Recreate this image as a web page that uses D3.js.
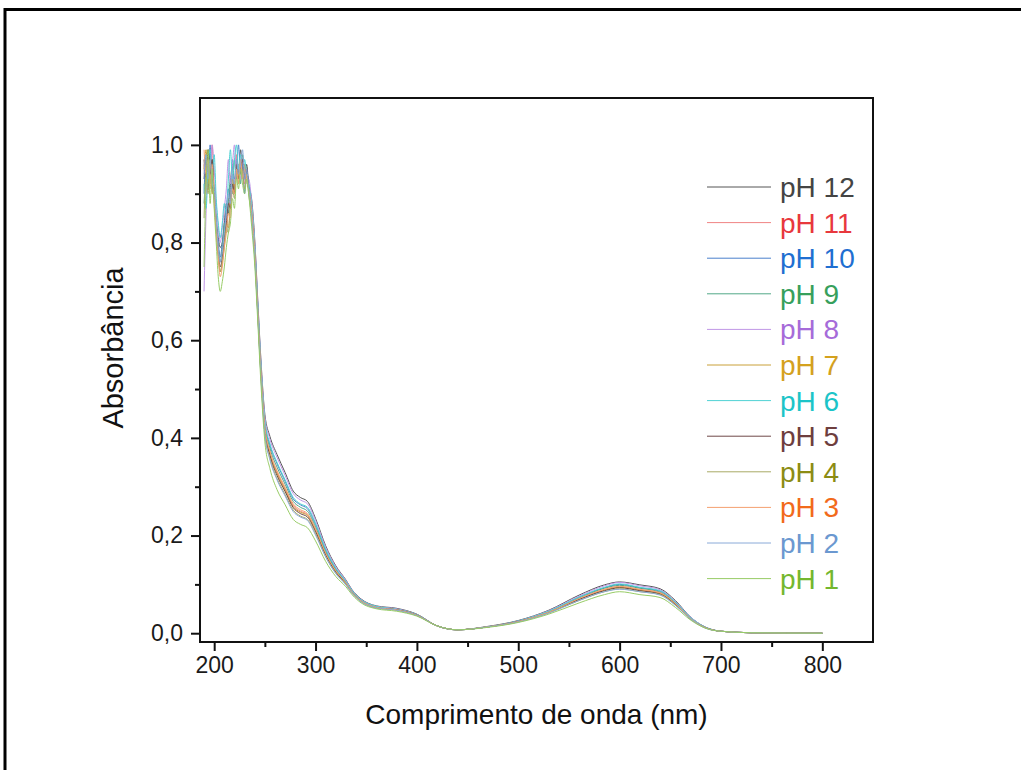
<!DOCTYPE html>
<html>
<head>
<meta charset="utf-8">
<script src="https://cdn.jsdelivr.net/npm/d3@7"></script>
<style>
  body { margin: 0; background: #fff; }
  svg { display: block; font-family: "Liberation Sans", Arial, sans-serif; }
</style>
</head>
<body>
<svg id="chart" width="1021" height="770"></svg>
<script>
var wavelength = [190,192,194,196,198,200,202,204,206,208,210,212,214,216,218,220,222,224,226,228,230,232,234,
  237,240,243,246,250,255,262,270,278,285,292,300,310,320,330,336,345,360,380,400,420,440,470,500,530,560,585,600,620,640,655,670,685,700,730,800];

var ph12 = [0.93,0.97,0.91,0.99,0.94,0.9,0.85,0.81,0.79,0.8,0.84,0.88,0.86,0.92,0.96,0.9,0.97,0.94,0.99,0.95,0.93,0.96,0.92,
  0.888,0.806,0.682,0.564,0.448,0.403,0.366,0.329,0.291,0.278,0.270,0.235,0.179,0.138,0.109,0.089,0.070,0.056,0.051,0.039,0.015,0.007,0.014,0.026,0.047,0.078,0.099,0.105,0.099,0.091,0.067,0.033,0.012,0.004,0.001,0];
var ph11 = [0.96,0.9,0.98,0.93,1.0,0.88,0.83,0.78,0.76,0.78,0.82,0.85,0.89,0.87,0.94,0.91,0.98,0.93,0.95,0.97,0.92,0.94,0.91,
  0.860,0.780,0.660,0.540,0.420,0.370,0.330,0.296,0.262,0.250,0.243,0.212,0.163,0.127,0.102,0.084,0.066,0.053,0.048,0.037,0.015,0.007,0.013,0.024,0.043,0.070,0.089,0.095,0.089,0.082,0.060,0.030,0.011,0.004,0.001,0];
var ph10 = [0.9,0.98,0.94,1.0,0.92,0.89,0.84,0.8,0.77,0.8,0.83,0.87,0.91,0.89,0.97,0.93,0.95,1.0,0.94,0.96,0.9,0.95,0.92,
  0.873,0.792,0.670,0.551,0.433,0.385,0.347,0.311,0.275,0.263,0.255,0.223,0.170,0.132,0.105,0.086,0.068,0.054,0.049,0.038,0.015,0.007,0.013,0.025,0.045,0.074,0.093,0.100,0.093,0.086,0.063,0.032,0.012,0.004,0.001,0];
var ph9 = [0.88,0.95,0.99,0.92,0.97,0.9,0.84,0.79,0.76,0.79,0.84,0.82,0.88,0.93,0.9,0.97,0.93,0.96,0.92,0.98,0.94,0.93,0.91,
  0.868,0.787,0.666,0.546,0.428,0.379,0.340,0.305,0.270,0.258,0.250,0.218,0.167,0.130,0.104,0.085,0.067,0.054,0.049,0.037,0.015,0.007,0.013,0.024,0.044,0.072,0.092,0.098,0.092,0.084,0.062,0.031,0.011,0.004,0.001,0];
var ph8 = [0.7,0.86,0.97,0.93,1.0,0.95,0.88,0.83,0.8,0.83,0.87,0.91,0.97,0.92,0.96,1.0,0.94,0.96,0.93,0.97,0.95,0.92,0.93,
  0.883,0.801,0.678,0.559,0.443,0.397,0.360,0.323,0.286,0.273,0.265,0.231,0.176,0.136,0.108,0.088,0.069,0.055,0.050,0.038,0.015,0.007,0.013,0.025,0.046,0.076,0.097,0.104,0.097,0.089,0.065,0.033,0.012,0.004,0.001,0];
var ph7 = [0.95,0.99,0.92,0.96,0.9,0.91,0.83,0.77,0.74,0.76,0.8,0.84,0.83,0.88,0.93,0.9,0.96,0.93,0.97,0.94,0.96,0.93,0.91,
  0.857,0.778,0.658,0.538,0.417,0.367,0.327,0.293,0.259,0.248,0.241,0.210,0.162,0.126,0.101,0.084,0.066,0.053,0.048,0.037,0.015,0.007,0.013,0.024,0.043,0.069,0.088,0.094,0.088,0.081,0.059,0.030,0.011,0.004,0.001,0];
var ph6 = [0.92,0.87,0.95,0.99,0.93,0.98,0.89,0.84,0.81,0.84,0.88,0.86,0.93,0.99,0.93,0.97,1.0,0.95,0.98,0.93,0.97,0.94,0.92,
  0.875,0.794,0.672,0.553,0.435,0.388,0.350,0.314,0.278,0.265,0.258,0.225,0.172,0.133,0.106,0.087,0.068,0.055,0.049,0.038,0.015,0.007,0.013,0.025,0.045,0.074,0.094,0.101,0.094,0.087,0.064,0.032,0.012,0.004,0.001,0];
var ph5 = [0.97,0.93,0.99,0.94,0.97,0.9,0.84,0.78,0.75,0.77,0.81,0.84,0.88,0.87,0.92,0.9,0.96,0.93,0.95,0.97,0.93,0.95,0.91,
  0.855,0.775,0.656,0.536,0.415,0.364,0.323,0.290,0.257,0.245,0.238,0.208,0.160,0.125,0.101,0.083,0.065,0.052,0.048,0.037,0.015,0.007,0.013,0.024,0.042,0.069,0.087,0.093,0.087,0.080,0.059,0.029,0.011,0.004,0.001,0];
var ph4 = [0.85,0.94,0.9,0.97,0.91,0.89,0.84,0.78,0.74,0.76,0.79,0.83,0.82,0.88,0.91,0.89,0.95,0.92,0.96,0.94,0.91,0.94,0.9,
  0.850,0.771,0.652,0.531,0.410,0.358,0.317,0.284,0.252,0.240,0.233,0.204,0.157,0.123,0.100,0.082,0.065,0.052,0.047,0.036,0.015,0.007,0.013,0.023,0.042,0.067,0.085,0.091,0.085,0.079,0.058,0.029,0.011,0.004,0.001,0];
var ph3 = [0.99,0.94,0.97,0.91,0.96,0.89,0.82,0.77,0.73,0.75,0.79,0.82,0.86,0.85,0.91,0.9,0.95,0.92,0.97,0.93,0.95,0.93,0.91,
  0.863,0.782,0.662,0.542,0.423,0.373,0.333,0.299,0.265,0.253,0.245,0.214,0.164,0.128,0.103,0.084,0.066,0.053,0.048,0.037,0.015,0.007,0.013,0.024,0.043,0.071,0.090,0.096,0.090,0.083,0.061,0.030,0.011,0.004,0.001,0];
var ph2 = [0.94,0.98,0.93,0.97,0.92,0.91,0.85,0.79,0.76,0.78,0.82,0.86,0.9,0.88,0.94,0.92,0.97,0.94,0.96,0.99,0.93,0.95,0.91,
  0.847,0.768,0.650,0.529,0.407,0.355,0.314,0.281,0.249,0.238,0.231,0.201,0.156,0.122,0.099,0.082,0.064,0.052,0.047,0.036,0.015,0.007,0.013,0.023,0.041,0.067,0.085,0.090,0.085,0.078,0.057,0.029,0.010,0.004,0.001,0];
var ph1 = [0.75,0.92,0.99,0.88,0.95,0.87,0.8,0.73,0.7,0.72,0.75,0.79,0.82,0.84,0.89,0.87,0.93,0.91,0.95,0.92,0.9,0.93,0.9,
  0.832,0.754,0.638,0.516,0.392,0.337,0.294,0.263,0.233,0.223,0.216,0.189,0.147,0.116,0.095,0.079,0.062,0.050,0.045,0.035,0.015,0.007,0.012,0.022,0.039,0.062,0.079,0.085,0.079,0.073,0.053,0.027,0.010,0.004,0.001,0];

var labels = ["pH 12","pH 11","pH 10","pH 9","pH 8","pH 7","pH 6","pH 5","pH 4","pH 3","pH 2","pH 1"];
var series = [ph12, ph11, ph10, ph9, ph8, ph7, ph6, ph5, ph4, ph3, ph2, ph1];
var lineColors = ["#555555","#f08484","#4a80cc","#52a888","#c096e6","#c9a038","#50d2d4","#6e4848","#a8aa66","#f4a070","#8aaad8","#98cc66"];
var textColors = ["#444444","#e8383d","#1f6fd1","#37a05c","#a66bd9","#d4a11e","#1cc4c8","#6e3e3e","#8c8c14","#f26a1b","#6b98d0","#74b72e"];

var xMajor = [200,300,400,500,600,700,800];
var xMinor = [250,350,450,550,650,750];
var yMajor = [0,0.2,0.4,0.6,0.8,1.0];
var yMinor = [0.1,0.3,0.5,0.7,0.9];

var svg = d3.select("#chart");
var plotL = 200, plotR = 873, plotT = 98, plotB = 642;

var x = d3.scaleLinear().domain([186, 850]).range([plotL, plotR]);
var y = d3.scaleLinear().domain([-0.018, 1.096]).range([plotB, plotT]);
var ptBR = d3.formatLocale({decimal: ",", thousands: ".", grouping: [3], currency: ["", ""]});
var fmt = ptBR.format(".1f");

// outer frame
svg.append("rect")
  .attr("x", 5).attr("y", 9.5)
  .attr("width", 1100).attr("height", 1000)
  .attr("fill", "none").attr("stroke", "#000").attr("stroke-width", 3);

var line = d3.line()
  .x(function(d, i) { return x(wavelength[i]); })
  .y(function(d) { return y(d); })
  .curve(d3.curveMonotoneX);

svg.append("g").selectAll("path")
  .data(series)
  .join("path")
  .attr("d", line)
  .attr("fill", "none")
  .attr("stroke", function(d, i) { return lineColors[i]; })
  .attr("stroke-width", 1);

// box
svg.append("path")
  .attr("d", "M" + plotL + "," + plotB + "V" + plotT + "H" + plotR + "V" + plotB + "Z")
  .attr("fill", "none").attr("stroke", "#111").attr("stroke-width", 2);

var gx = svg.append("g").attr("transform", "translate(0," + plotB + ")");
gx.call(d3.axisBottom(x).tickValues(xMajor).tickSize(9).tickSizeOuter(0).tickPadding(6));
gx.append("g").call(d3.axisBottom(x).tickValues(xMinor).tickSize(5).tickSizeOuter(0).tickFormat(""));

var gy = svg.append("g").attr("transform", "translate(" + plotL + ",0)");
gy.call(d3.axisLeft(y).tickValues(yMajor).tickSize(9).tickSizeOuter(0).tickPadding(8).tickFormat(fmt));
gy.append("g").call(d3.axisLeft(y).tickValues(yMinor).tickSize(5).tickSizeOuter(0).tickFormat(""));

svg.selectAll(".domain").remove();
svg.selectAll(".tick line").attr("stroke", "#111").attr("stroke-width", 2);
svg.selectAll(".tick text")
  .attr("fill", "#1a1a1a")
  .style("font-size", "23px")
  .style("font-family", "'Liberation Sans', Arial, sans-serif");

svg.append("text")
  .attr("x", (plotL + plotR) / 2).attr("y", 724)
  .attr("text-anchor", "middle")
  .style("font-size", "28px").attr("fill", "#111")
  .text("Comprimento de onda (nm)");

svg.append("text")
  .attr("transform", "translate(123,348) rotate(-90)")
  .attr("text-anchor", "middle")
  .style("font-size", "29px").attr("fill", "#111")
  .text("Absorbância");

var legend = svg.append("g").selectAll("g")
  .data(labels)
  .join("g")
  .attr("transform", function(d, i) { return "translate(707," + (187 + i * 35.6) + ")"; });

legend.append("line")
  .attr("x1", 0).attr("x2", 64)
  .attr("stroke", function(d, i) { return lineColors[i]; })
  .attr("stroke-width", 1);

legend.append("text")
  .attr("x", 73).attr("y", 10)
  .style("font-size", "28px")
  .attr("fill", function(d, i) { return textColors[i]; })
  .text(function(d) { return d; });
</script>
</body>
</html>
